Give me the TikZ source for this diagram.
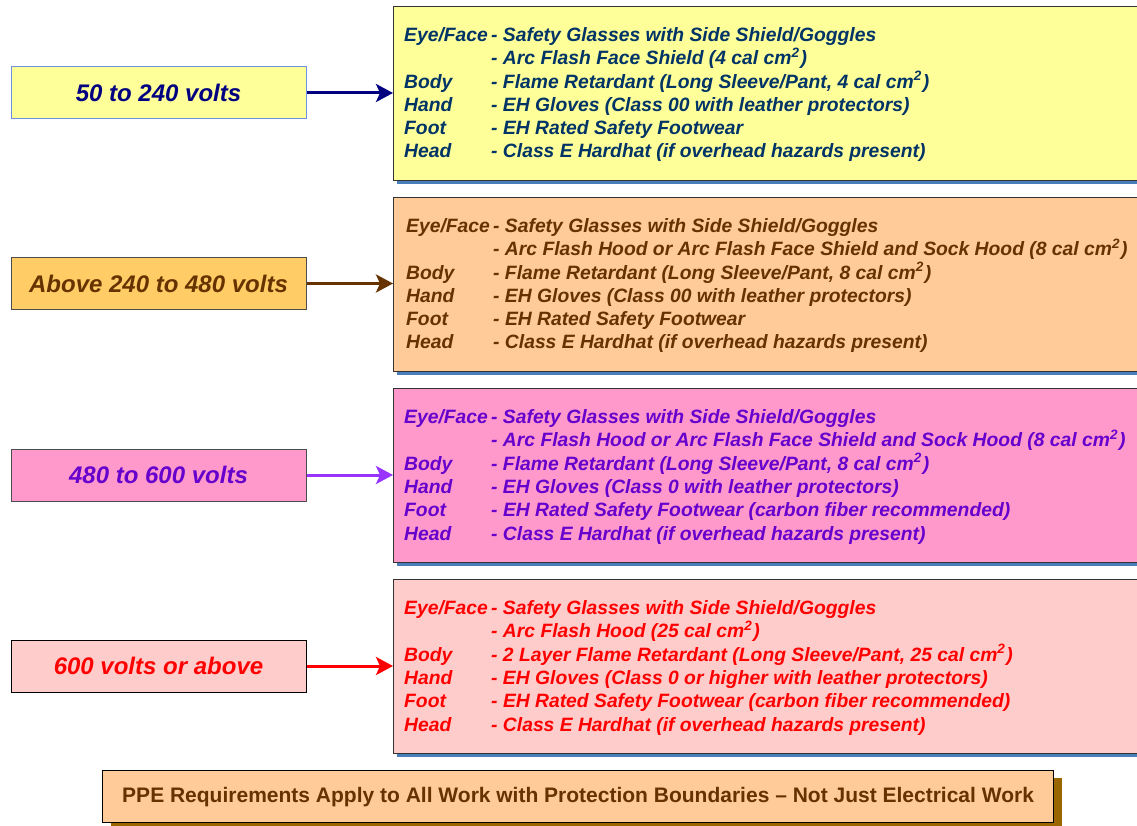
\documentclass[tikz,border=0pt]{standalone}
\usepackage{fontspec}
\setmainfont{Liberation Sans}
\usetikzlibrary{arrows.meta}
\definecolor{y1}{HTML}{FFFF99}
\definecolor{o1}{HTML}{FFCC66}
\definecolor{o2}{HTML}{FFCC99}
\definecolor{p1}{HTML}{FF99CC}
\definecolor{r1c}{HTML}{FFCCCC}
\definecolor{navyc}{HTML}{000080}
\definecolor{bluetxt}{HTML}{003366}
\definecolor{brownc}{HTML}{663300}
\definecolor{purpc}{HTML}{6600CC}
\definecolor{purparr}{HTML}{9933FF}
\definecolor{redc}{HTML}{FF0000}
\definecolor{shadowblue}{HTML}{4A7EBB}
\definecolor{shadowbrown}{HTML}{996600}
\definecolor{lblueborder}{HTML}{7090E0}
\newcommand\cmsq{cm\smash{\textsuperscript{2}}\kern1pt}
\tikzset{
  lbox/.style={draw, line width=1pt, minimum width=295pt, minimum height=52pt, inner sep=0pt,
    font=\fontsize{24}{28}\selectfont\bfseries\itshape},
  rbox/.style={draw=black!80, line width=1.2pt, minimum width=760pt, minimum height=174pt,
    anchor=north west, inner sep=0pt},
  rshadow/.style={fill=shadowblue, minimum width=760pt, minimum height=174pt,
    anchor=north west, inner sep=0pt},
  rtext/.style={anchor=base west, inner sep=0pt,
    font=\fontsize{19.3}{23.3}\selectfont\bfseries\itshape},
  conn/.style={line width=3pt, -{Stealth[length=17pt,width=18pt,inset=4pt]}},
}
\begin{document}
\begin{tikzpicture}[x=1pt,y=-1pt]
\clip (0,0) rectangle (1137,826);
\fill[white] (0,0) rectangle (1137,826);

% left boxes
\node[lbox, draw=lblueborder, fill=y1, text=navyc] (l1) at (158.5,93) {50 to 240 volts};
\node[lbox, draw=black!70, fill=o1, text=brownc] (l2) at (158.5,283.5) {Above 240 to 480 volts};
\node[lbox, draw=black!70, fill=p1, text=purpc] (l3) at (158.5,475) {480 to 600 volts};
\node[lbox, draw=black, fill=r1c, text=redc] (l4) at (158.5,666) {600 volts or above};

% right boxes with shadows
\node[rshadow] (s1) at (397,10) {};
\node[rbox, fill=y1] (r1) at (393,6) {};
\node[rshadow] (s2) at (397,201) {};
\node[rbox, fill=o2] (r2) at (393,197) {};
\node[rshadow] (s3) at (397,392) {};
\node[rbox, fill=p1] (r3) at (393,388) {};
\node[rshadow] (s4) at (397,583) {};
\node[rbox, fill=r1c] (r4) at (393,579) {};

% texts
\node[rtext, text=bluetxt] (t1) at (404,41.5) {\begin{tabular}[t]{@{}p{87pt}@{}l@{}}
Eye/Face & - Safety Glasses with Side Shield/Goggles\\
 & - Arc Flash Face Shield (4 cal \cmsq)\\
Body & - Flame Retardant (Long Sleeve/Pant, 4 cal \cmsq)\\
Hand & - EH Gloves (Class 00 with leather protectors)\\
Foot & - EH Rated Safety Footwear\\
Head & - Class E Hardhat (if overhead hazards present)
\end{tabular}};
\node[rtext, text=brownc] (t2) at (406,232.5) {\begin{tabular}[t]{@{}p{87pt}@{}l@{}}
Eye/Face & - Safety Glasses with Side Shield/Goggles\\
 & - Arc Flash Hood or Arc Flash Face Shield and Sock Hood (8 cal \cmsq)\\
Body & - Flame Retardant (Long Sleeve/Pant, 8 cal \cmsq)\\
Hand & - EH Gloves (Class 00 with leather protectors)\\
Foot & - EH Rated Safety Footwear\\
Head & - Class E Hardhat (if overhead hazards present)
\end{tabular}};
\node[rtext, text=purpc] (t3) at (404,423.5) {\begin{tabular}[t]{@{}p{87pt}@{}l@{}}
Eye/Face & - Safety Glasses with Side Shield/Goggles\\
 & - Arc Flash Hood or Arc Flash Face Shield and Sock Hood (8 cal \cmsq)\\
Body & - Flame Retardant (Long Sleeve/Pant, 8 cal \cmsq)\\
Hand & - EH Gloves (Class 0 with leather protectors)\\
Foot & - EH Rated Safety Footwear (carbon fiber recommended)\\
Head & - Class E Hardhat (if overhead hazards present)
\end{tabular}};
\node[rtext, text=redc] (t4) at (404,614.5) {\begin{tabular}[t]{@{}p{87pt}@{}l@{}}
Eye/Face & - Safety Glasses with Side Shield/Goggles\\
 & - Arc Flash Hood (25 cal \cmsq)\\
Body & - 2 Layer Flame Retardant (Long Sleeve/Pant, 25 cal \cmsq)\\
Hand & - EH Gloves (Class 0 or higher with leather protectors)\\
Foot & - EH Rated Safety Footwear (carbon fiber recommended)\\
Head & - Class E Hardhat (if overhead hazards present)
\end{tabular}};

% arrows
\draw[conn, navyc] (l1.east) -- (l1.east -| r1.west);
\draw[conn, brownc] (l2.east) -- (l2.east -| r2.west);
\draw[conn, purparr] (l3.east) -- (l3.east -| r3.west);
\draw[conn, redc] (l4.east) -- (l4.east -| r4.west);

% bottom note
\node[fill=shadowbrown, minimum width=951pt, minimum height=52pt, inner sep=0pt, anchor=north west] (bs) at (111,778) {};
\node[draw=black, line width=1.2pt, fill=o2, minimum width=951pt, minimum height=52pt, inner sep=0pt,
  anchor=north west, text=brownc, font=\fontsize{21}{25}\selectfont\bfseries] (b) at (102,770)
  {PPE Requirements Apply to All Work with Protection Boundaries -- Not Just Electrical Work};
\end{tikzpicture}
\end{document}
